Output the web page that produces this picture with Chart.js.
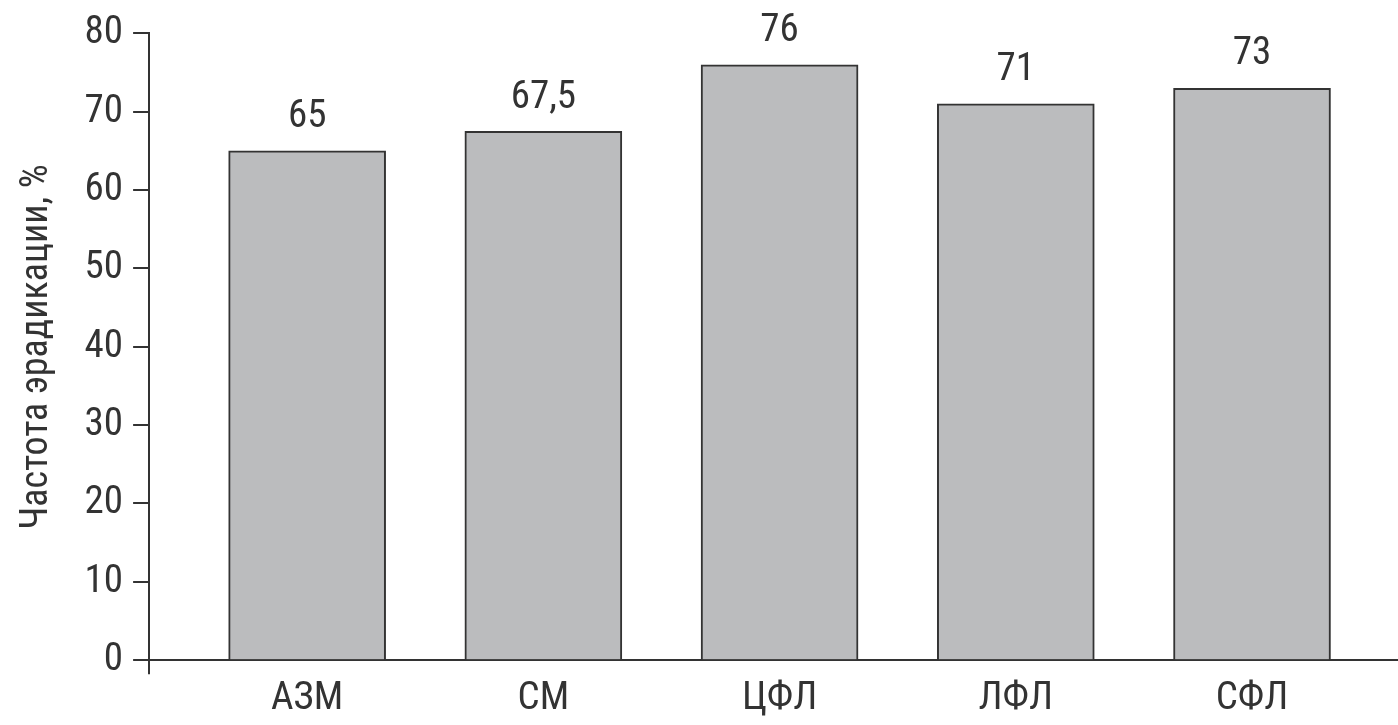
<!DOCTYPE html>
<html>
<head>
<meta charset="utf-8">
<script src="https://cdn.jsdelivr.net/npm/chart.js@4"></script>
<style>
  html, body { margin: 0; padding: 0; background: #fff; }
  #wrap { width: 1398px; height: 725px; }
</style>
</head>
<body>
<div id="wrap"><canvas id="c"></canvas></div>
<script>
// data
const categories = ["АЗМ", "СМ", "ЦФЛ", "ЛФЛ", "СФЛ"];
const values = [65, 67.5, 76, 71, 73];
const valueLabels = ["65", "67,5", "76", "71", "73"];
const yTicks = [0, 10, 20, 30, 40, 50, 60, 70, 80];

const FONT = '"Liberation Sans Narrow", "Roboto Condensed", Roboto, sans-serif';
const INK = "#333333";

// draws the numbers above each bar
const barValues = {
    id: "barValues",
    afterDatasetsDraw(chart) {
        const ctx = chart.ctx;
        const meta = chart.getDatasetMeta(0);
        ctx.save();
        ctx.font = "39px " + FONT;
        ctx.fillStyle = INK;
        ctx.textAlign = "center";
        ctx.textBaseline = "bottom";
        meta.data.forEach((bar, i) => {
            ctx.fillText(valueLabels[i], bar.x, bar.y - 14);
        });
        ctx.restore();
    },
};

new Chart(document.getElementById("c"), {
    type: "bar",
    data: {
        datasets: [{
            data: values.map((v, i) => ({ x: i, y: v })),
            backgroundColor: "#bbbcbe",
            borderColor: INK,
            borderWidth: 2,
            borderSkipped: "bottom",
            barThickness: 157,
        }],
    },
    options: {
        responsive: true,
        maintainAspectRatio: false,
        animation: false,
        layout: { padding: { top: 16, right: 0, bottom: 0, left: 15 } },
        plugins: { legend: { display: false }, tooltip: { enabled: false } },
        scales: {
            x: {
                type: "linear",
                offset: false,
                min: -0.669,
                max: 4.618,
                afterBuildTicks: (scale) => {
                    scale.ticks = [{ value: scale.min }].concat(
                        categories.map((c, i) => ({ value: i }))
                    );
                },
                border: { display: true, color: INK, width: 2 },
                grid: {
                    offset: false,
                    drawOnChartArea: false,
                    tickLength: 14,
                    lineWidth: 2,
                    color: (ctx) => (ctx.index === 0 ? INK : "rgba(0,0,0,0)"),
                },
                ticks: {
                    autoSkip: false,
                    maxRotation: 0,
                    padding: 2,
                    color: INK,
                    font: { size: 39, family: FONT },
                    callback: (v) => {
                        const i = Math.round(v);
                        return Math.abs(v - i) < 1e-6 ? categories[i] : "";
                    },
                },
            },
            y: {
                min: 0,
                max: 80,
                afterBuildTicks: (scale) => {
                    scale.ticks = yTicks.map((v) => ({ value: v }));
                },
                border: { display: true, color: INK, width: 2 },
                grid: {
                    drawOnChartArea: false,
                    tickLength: 16,
                    lineWidth: 2,
                    color: INK,
                },
                ticks: {
                    padding: 10,
                    color: INK,
                    font: { size: 39, family: FONT },
                },
                title: {
                    display: true,
                    text: "Частота эрадикации, %",
                    color: INK,
                    font: { size: 38, family: FONT },
                    padding: { top: 0, bottom: 14 },
                },
            },
        },
    },
    plugins: [barValues],
});
</script>
</body>
</html>
